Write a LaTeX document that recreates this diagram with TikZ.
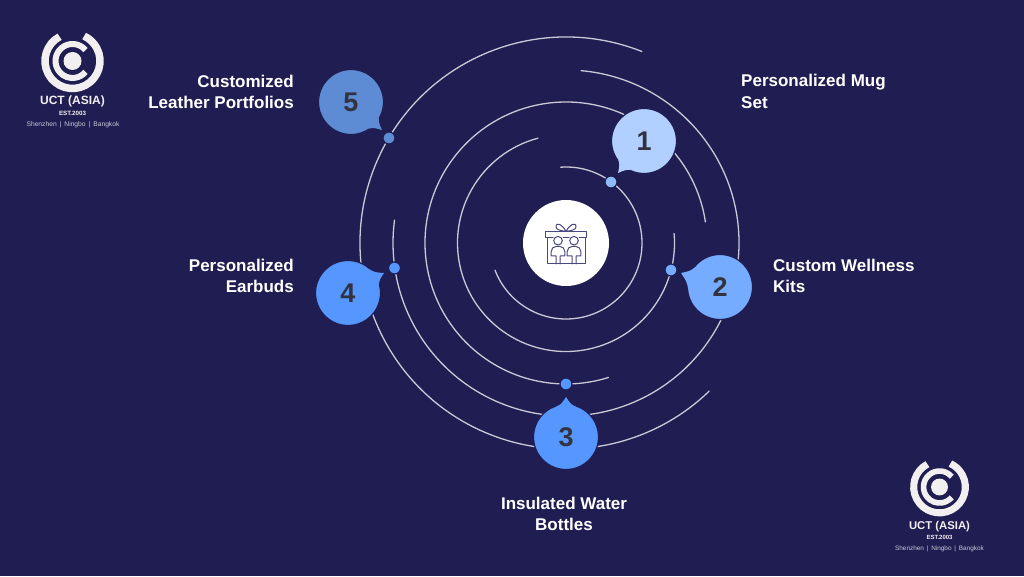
\documentclass[tikz,border=0pt]{standalone}
\usepackage{fontspec}
\setmainfont{Liberation Sans}
\usetikzlibrary{calc}
\definecolor{bgc}{HTML}{201D52}
\definecolor{ringc}{HTML}{C9C9D6}
\definecolor{cA}{HTML}{B1CFFF}
\definecolor{cB}{HTML}{75ACFF}
\definecolor{cC}{HTML}{5596FF}
\definecolor{cD}{HTML}{5596FF}
\definecolor{cE}{HTML}{5D8CD5}
\definecolor{dotA}{HTML}{8EBCF8}
\definecolor{logoc}{HTML}{F2EFF1}
\definecolor{iconc}{HTML}{4A4880}
\definecolor{numc}{HTML}{333340}
\tikzset{
 x=1pt,y=1pt,
 ring/.style={draw=ringc,line width=1.3pt,line cap=round},
 bubble/.style={circle,minimum size=65pt,inner sep=0pt,text=numc,draw=bgc,line width=1.2pt,font=\fontsize{27}{27}\selectfont\bfseries},
 dotn/.style={circle,minimum size=12pt,inner sep=0pt,draw=bgc,line width=1.2pt},
 lab/.style={text=white,font=\fontsize{17}{21.5}\selectfont\bfseries,inner sep=0pt},
 logotxt/.style={text=logoc,inner sep=0pt},
 icon/.style={draw=iconc,line width=1pt,line join=round,line cap=round},
}
\newcommand{\orbit}[3]{\draw[ring] ([shift={(#1:#3)}]c) arc[start angle=#1,end angle=#2,radius=#3];}
\newcommand{\tailshape}[6]{% name, colour, tip x,y, angle a, angle b
 \coordinate (ta) at ($(#1.center)+(#5:31.8)$);
 \coordinate (tb) at ($(#1.center)+(#6:31.8)$);
 \coordinate (tq) at (#3,#4);
 \fill[#2] (ta) .. controls ($($(ta)!0.5!(tq)$)!0.06!(#1.center)$) .. (tq) .. controls ($($(tb)!0.5!(tq)$)!0.06!(#1.center)$) .. (tb) -- cycle;}
\newcommand{\uctlogo}[4]{% x, y, scale, name
 \begin{scope}[shift={(#1,#2)},scale=#3]
 \draw[logoc,line width=#3*7.5pt] (118:27.5) arc[start angle=118,end angle=425,radius=27.5];
 \draw[logoc,line width=#3*6pt] (40:17) arc[start angle=40,end angle=320,radius=17];
 \node[circle,fill=logoc,minimum size=#3*18pt,inner sep=0pt] (#4) at (0,0) {};
 \end{scope}}
\newcommand{\person}[1]{%
 \begin{scope}[shift={(#1,0)}]
 \draw[icon] (0,335.3) circle[radius=4.3];
 \draw[icon] (-2,312) -- (-2,320) -- (-6.8,320) -- (-6.8,324.5) .. controls (-6.8,327.5) and (-4.5,329.5) .. (-2,329.5) -- (2,329.5) .. controls (4.5,329.5) and (6.8,327.5) .. (6.8,324.5) -- (6.8,320) -- (2,320) -- (2,312);
 \end{scope}}
\begin{document}
\begin{tikzpicture}[x=1pt,y=1pt]
\useasboundingbox (0,0) rectangle (1024,576);
\fill[bgc] (0,0) rectangle (1024,576);
\coordinate (c) at (566,333);
% orbits
\orbit{94}{-159}{76}
\orbit{105}{365}{108.5}
\orbit{8.6}{287.5}{141}
\orbit{85}{-187.6}{173}
\orbit{68.4}{314}{206}
% centre
\node[circle,fill=white,minimum size=86pt,inner sep=0pt] (hub) at (c) {};
\draw[icon] (553,338.5) -- (545.5,338.5) -- (545.5,344.5) -- (586.5,344.5) -- (586.5,338.5) -- (579,338.5);
\draw[icon] (563,338.5) -- (569,338.5);
\draw[icon] (547,338.5) -- (547,312) -- (585,312) -- (585,338.5);
\draw[icon] (566,344.5) .. controls (563,351) and (556,355) .. (556,349) .. controls (556,346) and (561,345.5) .. (566,344.5) .. controls (571,345.5) and (576,346) .. (576,349) .. controls (576,355) and (569,351) .. (566,344.5);
\person{558}\person{574}
% bubbles
\node[bubble,fill=cA] (n1) at (644,435) {1};
\node[bubble,fill=cB] (n2) at (720,289) {2};
\node[bubble,fill=cC] (n3) at (566,139) {3};
\node[bubble,fill=cD] (n4) at (348,283) {4};
\node[bubble,fill=cE] (n5) at (351,474) {5};
\tailshape{n1}{cA}{618}{403}{216}{246}
\tailshape{n2}{cB}{681}{303}{141}{185}
\tailshape{n3}{cC}{566}{179}{72}{108}
\tailshape{n4}{cD}{384}{303}{14}{49}
\tailshape{n5}{cE}{382}{446}{-57}{-29}
% dots
\node[dotn,fill=dotA] (d1) at (611,394) {};
\node[dotn,fill=cB] (d2) at (671,306) {};
\node[dotn,fill=cC] (d3) at (566,192) {};
\node[dotn,fill=cD] (d4) at (394.5,308) {};
\node[dotn,fill=cE] (d5) at (389,438) {};
% labels
\node[lab,anchor=west,align=left] (l1) at (741,484.5) {Personalized Mug\\Set};
\node[lab,anchor=west,align=left] (l2) at (773,300) {Custom Wellness\\Kits};
\node[lab,align=center] (l3) at (564,62) {Insulated Water\\Bottles};
\node[lab,anchor=east,align=right] (l4) at (294,300) {Personalized\\Earbuds};
\node[lab,anchor=east,align=right] (l5) at (294,484) {Customized\\Leather Portfolios};
% logos
\uctlogo{72.5}{515}{1}{la}
\node[logotxt,font=\fontsize{12}{12}\selectfont\bfseries] (la1) at (72.5,475) {UCT (ASIA)};
\node[logotxt,font=\fontsize{6.2}{7}\selectfont\bfseries] (la2) at (72.5,463) {EST.2003};
\node[text=ringc,inner sep=0pt,font=\fontsize{6.7}{8}\selectfont] (la3) at (73,451) {Shenzhen \,|\, Ningbo \,|\, Bangkok};
\uctlogo{939.5}{89}{0.94}{lb}
\node[logotxt,font=\fontsize{11.3}{12}\selectfont\bfseries] (lb1) at (939.5,49) {UCT (ASIA)};
\node[logotxt,font=\fontsize{6}{7}\selectfont\bfseries] (lb2) at (939.5,39) {EST.2003};
\node[text=ringc,inner sep=0pt,font=\fontsize{6.4}{7}\selectfont] (lb3) at (939.5,27) {Shenzhen \,|\, Ningbo \,|\, Bangkok};
\end{tikzpicture}
\end{document}
